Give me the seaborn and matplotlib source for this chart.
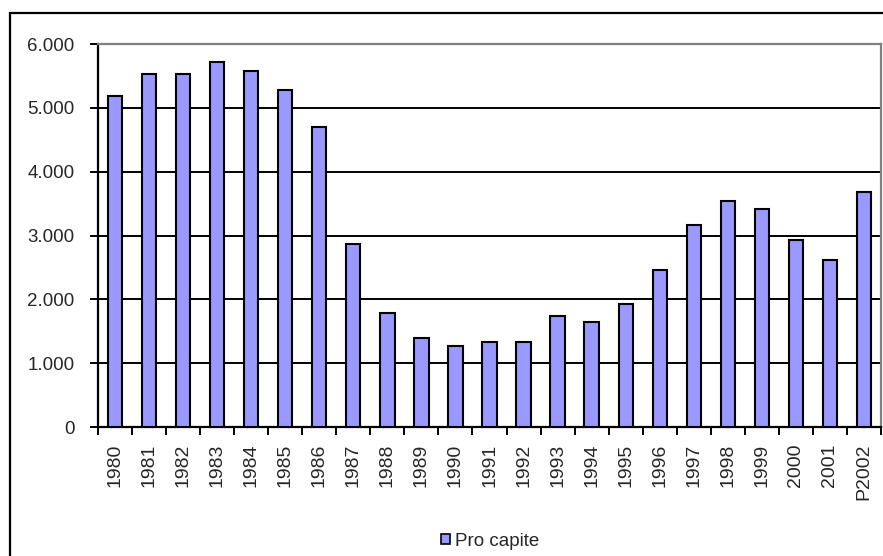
import matplotlib
matplotlib.use("Agg")
import matplotlib.pyplot as plt
from matplotlib.patches import Rectangle
from matplotlib.ticker import FixedLocator, FuncFormatter
import numpy as np
import pandas as pd
import seaborn as sns

# Per-capita values by year (P = provisional)
years = ["1980", "1981", "1982", "1983", "1984", "1985", "1986", "1987",
         "1988", "1989", "1990", "1991", "1992", "1993", "1994", "1995",
         "1996", "1997", "1998", "1999", "2000", "2001", "P2002"]
pro_capite = [5190, 5530, 5530, 5720, 5570, 5280, 4700, 2860,
              1780, 1400, 1270, 1330, 1330, 1740, 1645, 1930,
              2460, 3170, 3545, 3420, 2930, 2620, 3680]
series_name = "Pro capite"
y_ticks = [0, 1000, 2000, 3000, 4000, 5000, 6000]

df = pd.DataFrame({"anno": years, "valore": pro_capite})

sns.set_theme(style="white")
plt.rcParams["font.family"] = ["Liberation Sans", "DejaVu Sans"]

W, H = 883, 556
fig = plt.figure(figsize=(W / 100, H / 100), dpi=100)
fig.patch.set_facecolor("white")

# outer chart-area frame
fig.add_artist(Rectangle((10 / W, -0.05), 1.2, 1 - 13 / H + 0.05,
                         transform=fig.transFigure, fill=False,
                         edgecolor="black", linewidth=1.6, zorder=0))

ax = fig.add_axes([98 / W, 1 - 427 / H, (881 - 98) / W, (427 - 44) / H])
ax.set_facecolor("white")

bar_color = "#9999FF"
sns.barplot(data=df, x="anno", y="valore", color=bar_color, width=0.42,
            edgecolor="black", linewidth=1.5, saturation=1, ax=ax, zorder=3)

ax.set_xlim(-0.5, len(years) - 0.5)
ax.set_ylim(0, 6000)

# horizontal gridlines
for v in y_ticks[1:-1]:
    ax.axhline(v, color="black", linewidth=1.4, zorder=1)

ax.set_yticks(y_ticks)
ax.yaxis.set_major_formatter(FuncFormatter(
    lambda v, p: f"{int(v):,}".replace(",", ".")))
ax.tick_params(axis="y", which="major", direction="out", length=6, width=1.4,
               color="black", labelsize=13.5, pad=11, left=True)

ax.set_xticks(range(len(years)))
ax.set_xticklabels(years, rotation=90)
ax.xaxis.set_minor_locator(FixedLocator(np.arange(-0.5, len(years), 1.0)))
ax.tick_params(axis="x", which="major", length=0, labelsize=14, pad=12)
ax.tick_params(axis="x", which="minor", direction="out", length=6, width=1.4,
               color="black", bottom=True)
ax.set_xlabel("")
ax.set_ylabel("")

for side in ["left", "bottom"]:
    ax.spines[side].set_color("black")
    ax.spines[side].set_linewidth(1.6)
for side in ["top", "right"]:
    ax.spines[side].set_color("#808080")
    ax.spines[side].set_linewidth(1.6)

handle = Rectangle((0, 0), 1, 1, facecolor=bar_color, edgecolor="black",
                   linewidth=1.2)
fig.legend([handle], [series_name], loc="center",
           bbox_to_anchor=(490 / W, 1 - 541 / H), frameon=False,
           fontsize=13.5, handlelength=0.5, handleheight=0.5,
           handletextpad=0.25)

fig.savefig("out.png", dpi=100, facecolor="white")
